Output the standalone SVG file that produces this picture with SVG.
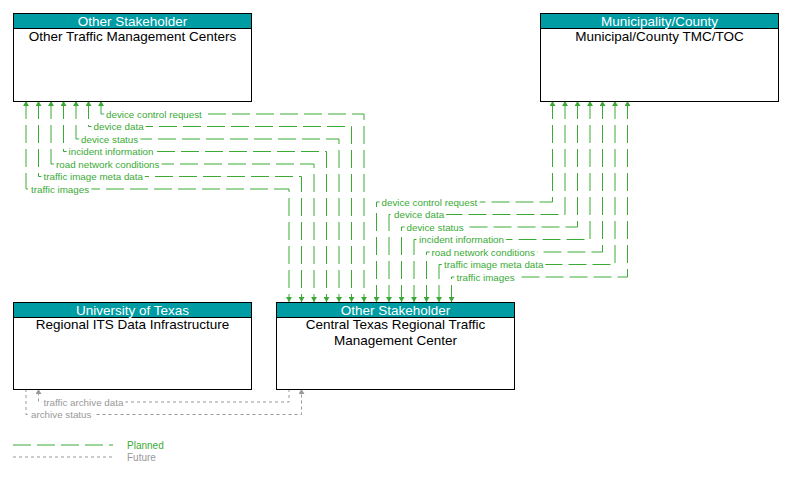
<svg xmlns="http://www.w3.org/2000/svg" width="789" height="477" viewBox="0 0 789 477">
<style>
.box{fill:#fff;stroke:#000;stroke-width:1}
.hdr{fill:#009ca3;stroke:#000;stroke-width:1}
.ht{font-family:"Liberation Sans",Arial,sans-serif;font-size:13.5px;fill:#fff;text-anchor:middle}
.bt{font-family:"Liberation Sans",Arial,sans-serif;font-size:13.5px;fill:#000;text-anchor:middle}
.pl{fill:none;stroke:#3aaa35;stroke-width:1;stroke-dasharray:18 6;marker-start:url(#ag);marker-end:url(#ag)}
.fu{fill:none;stroke:#999;stroke-width:1;stroke-dasharray:3 3}
.fa{marker-end:url(#ay)}
.lg{font-family:"Liberation Sans",Arial,sans-serif;font-size:9.8px;fill:#3aaa35;paint-order:stroke;stroke:#fff;stroke-width:5px;stroke-linejoin:round;dominant-baseline:central}
.lf{font-family:"Liberation Sans",Arial,sans-serif;font-size:9.8px;fill:#999;paint-order:stroke;stroke:#fff;stroke-width:5px;stroke-linejoin:round;dominant-baseline:central}
.leg{font-family:"Liberation Sans",Arial,sans-serif;font-size:10px}
</style>
<defs>
<marker id="ag" viewBox="0 0 5 6" refX="5" refY="3" markerWidth="5" markerHeight="6" markerUnits="userSpaceOnUse" orient="auto-start-reverse"><path d="M0,0 L5,3 L0,6 z" fill="#3aaa35"/></marker>
<marker id="ay" viewBox="0 0 5 6" refX="5" refY="3" markerWidth="5" markerHeight="6" markerUnits="userSpaceOnUse" orient="auto"><path d="M0,0 L5,3 L0,6 z" fill="#999"/></marker>
</defs>

<g id="connectors">
<path class="pl" d="M101,101 V114 H364 V302"/>
<path class="pl" d="M88.5,101 V126.5 H351.5 V302"/>
<path class="pl" d="M76,101 V139 H339 V302"/>
<path class="pl" d="M63.5,101 V151.5 H326.5 V302"/>
<path class="pl" d="M51,101 V164 H314 V302"/>
<path class="pl" d="M38.5,101 V176.5 H301.5 V302"/>
<path class="pl" d="M26,101 V189 H289 V302"/>
<text class="lg" x="106" y="114">device control request</text>
<text class="lg" x="93.5" y="126.5">device data</text>
<text class="lg" x="81" y="139">device status</text>
<text class="lg" x="68.5" y="151.5">incident information</text>
<text class="lg" x="56" y="164">road network conditions</text>
<text class="lg" x="43.5" y="176.5">traffic image meta data</text>
<text class="lg" x="31" y="189">traffic images</text>

<path class="pl" d="M552.5,101 V202 H376.5 V302"/>
<path class="pl" d="M565,101 V214.5 H389 V302"/>
<path class="pl" d="M577.5,101 V227 H401.5 V302"/>
<path class="pl" d="M590,101 V239.5 H414 V302"/>
<path class="pl" d="M602.5,101 V252 H426.5 V302"/>
<path class="pl" d="M615,101 V264.5 H439 V302"/>
<path class="pl" d="M627.5,101 V277 H451.5 V302"/>
<text class="lg" x="381.5" y="202">device control request</text>
<text class="lg" x="394" y="214.5">device data</text>
<text class="lg" x="406.5" y="227">device status</text>
<text class="lg" x="419" y="239.5">incident information</text>
<text class="lg" x="431.5" y="252">road network conditions</text>
<text class="lg" x="444" y="264.5">traffic image meta data</text>
<text class="lg" x="456.5" y="277">traffic images</text>

<path class="fu fa" d="M289,389 V402 H38.5 V389"/>
<path class="fu fa" d="M26,389 V414.5 H301.5 V389"/>
<text class="lf" x="43.5" y="402">traffic archive data</text>
<text class="lf" x="31" y="414.5">archive status</text>
</g>

<g id="node-other-tmc">
<rect class="box" x="13.5" y="13.5" width="238" height="88"/>
<rect class="hdr" x="13.5" y="13.5" width="238" height="15"/>
<text class="ht" x="132.5" y="26">Other Stakeholder</text>
<text class="bt" x="132.5" y="40.5">Other Traffic Management Centers</text>
</g>

<g id="node-municipal">
<rect class="box" x="540.5" y="13.5" width="238" height="88"/>
<rect class="hdr" x="540.5" y="13.5" width="238" height="15"/>
<text class="ht" x="659.5" y="26">Municipality/County</text>
<text class="bt" x="659.5" y="40.5">Municipal/County TMC/TOC</text>
</g>

<g id="node-university">
<rect class="box" x="13.5" y="302.5" width="238" height="87"/>
<rect class="hdr" x="13.5" y="302.5" width="238" height="15"/>
<text class="ht" x="132.5" y="315">University of Texas</text>
<text class="bt" x="132.5" y="329">Regional ITS Data Infrastructure</text>
</g>

<g id="node-central">
<rect class="box" x="276.5" y="302.5" width="238" height="87"/>
<rect class="hdr" x="276.5" y="302.5" width="238" height="15"/>
<text class="ht" x="395.5" y="315">Other Stakeholder</text>
<text class="bt" x="395.5" y="329">Central Texas Regional Traffic</text>
<text class="bt" x="395.5" y="345">Management Center</text>
</g>

<g id="legend">
<line x1="13" y1="445" x2="113" y2="445" stroke="#3aaa35" stroke-width="1" stroke-dasharray="18 6"/>
<text class="leg" x="127" y="449" fill="#3aaa35">Planned</text>
<line x1="13" y1="457" x2="113" y2="457" stroke="#999" stroke-width="1" stroke-dasharray="3 3"/>
<text class="leg" x="127" y="461" fill="#999">Future</text>
</g>
</svg>
